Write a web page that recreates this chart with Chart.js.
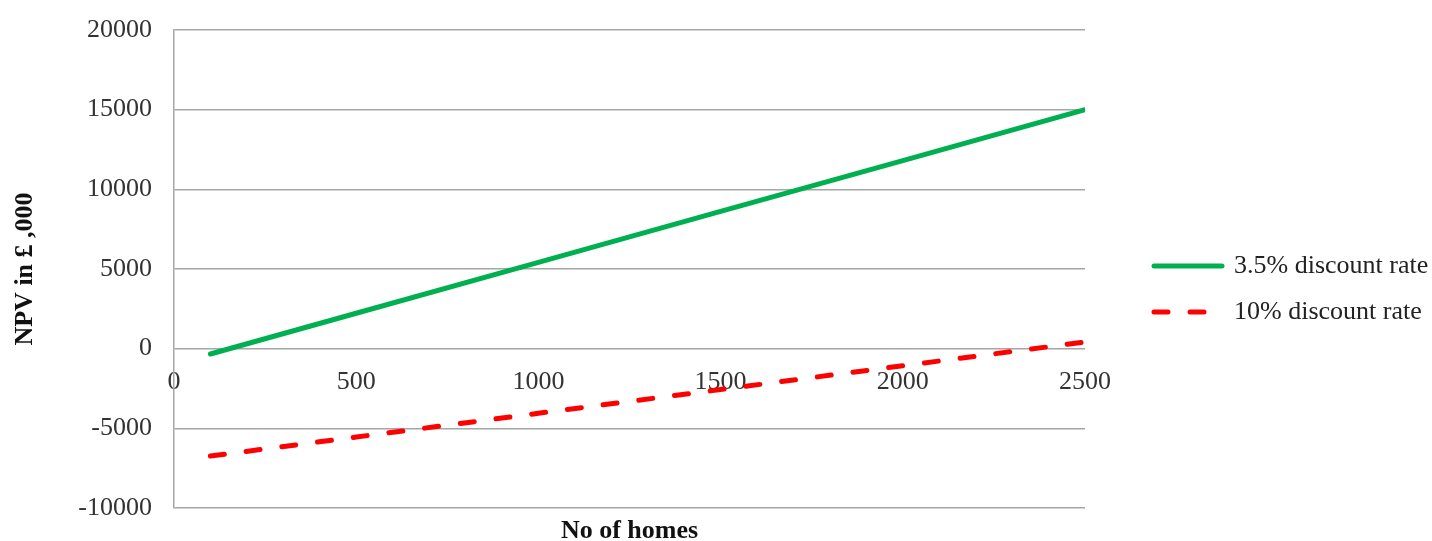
<!DOCTYPE html>
<html>
<head>
<meta charset="utf-8">
<script src="https://cdn.jsdelivr.net/npm/chart.js@4/dist/chart.umd.min.js"></script>
<style>
  html, body { margin: 0; padding: 0; background: #fff; }
  #wrap { width: 1432px; height: 541px; }
</style>
</head>
<body>
<div id="wrap"><canvas id="npv-chart"></canvas></div>
<script>
// values (NPV in £,000)
const homes = [100, 500, 1000, 1500, 2000, 2500];
const npvLow = [-333, 2223, 5417, 8611, 11806, 15000];     // 3.5% discount rate
const npvHigh = [-6740, -5547, -4055, -2563, -1072, 420];   // 10% discount rate
const seriesNames = ['3.5% discount rate', '10% discount rate'];

const FONT = '"Liberation Serif", "Times New Roman", serif';
const GRID = '#a6a6a6';

const toPoints = (xs, ys) => xs.map((x, i) => ({ x: x, y: ys[i] }));

// legend drawn to the right of the plot, like the original
const sideLegend = {
  id: 'sideLegend',
  afterDraw(chart) {
    const { ctx, chartArea } = chart;
    const x0 = chartArea.right + 67;
    const mid = (chartArea.top + chartArea.bottom) / 2;
    chart.data.datasets.forEach((ds, i) => {
      const y = mid - 3 + i * 46;
      ctx.save();
      ctx.strokeStyle = ds.borderColor;
      ctx.lineWidth = 5;
      ctx.lineCap = 'round';
      ctx.setLineDash(ds.borderDash || []);
      ctx.beginPath();
      ctx.moveTo(x0 + 2, y);
      ctx.lineTo(x0 + 70, y);
      ctx.stroke();
      ctx.setLineDash([]);
      ctx.fillStyle = '#222';
      ctx.font = '26px ' + FONT;
      ctx.textBaseline = 'middle';
      ctx.fillText(ds.label, x0 + 82, y);
      ctx.restore();
    });
  }
};

new Chart(document.getElementById('npv-chart'), {
  type: 'line',
  data: {
    datasets: [{
      label: seriesNames[0],
      data: toPoints(homes, npvLow),
      borderColor: '#00b050',
      borderWidth: 5,
      borderCapStyle: 'round',
      pointRadius: 0,
      fill: false
    }, {
      label: seriesNames[1],
      data: toPoints(homes, npvHigh),
      borderColor: '#ff0000',
      borderWidth: 5,
      borderCapStyle: 'round',
      borderDash: [14, 22],
      pointRadius: 0,
      fill: false
    }]
  },
  options: {
    responsive: true,
    maintainAspectRatio: false,
    animation: false,
    layout: { padding: { top: 30, right: 347, left: 0, bottom: 0 } },
    plugins: { legend: { display: false }, tooltip: { enabled: false } },
    scales: {
      x: {
        type: 'linear',
        position: { y: 0 },
        min: 0, max: 2500,
        ticks: { stepSize: 500, padding: 10, color: '#333', maxRotation: 0,
                 font: { family: FONT, size: 26 }, callback: v => v },
        grid: { display: false },
        border: { display: false }
      },
      xTitle: {
        type: 'linear',
        position: 'bottom',
        min: 0, max: 2500,
        ticks: { display: false },
        grid: { display: false },
        border: { display: false },
        title: { display: true, text: 'No of homes', color: '#111',
                 font: { family: FONT, size: 26, weight: 'bold' }, padding: { top: 0, bottom: -6 } },
        afterFit: s => { s.height = 33; }
      },
      y: {
        min: -10000, max: 20000,
        ticks: { stepSize: 5000, padding: 22, color: '#333',
                 font: { family: FONT, size: 26 }, callback: v => v },
        grid: { color: GRID, lineWidth: 1.5, drawTicks: false },
        border: { color: GRID, width: 1.5 },
        title: { display: true, text: 'NPV in £ ,000', color: '#111',
                 font: { family: FONT, size: 26, weight: 'bold' }, padding: { top: 10, bottom: 0 } },
        afterFit: s => { s.width = 174; s.paddingTop = 0; s.paddingBottom = 0; }
      }
    }
  },
  plugins: [sideLegend]
});
</script>
</body>
</html>
